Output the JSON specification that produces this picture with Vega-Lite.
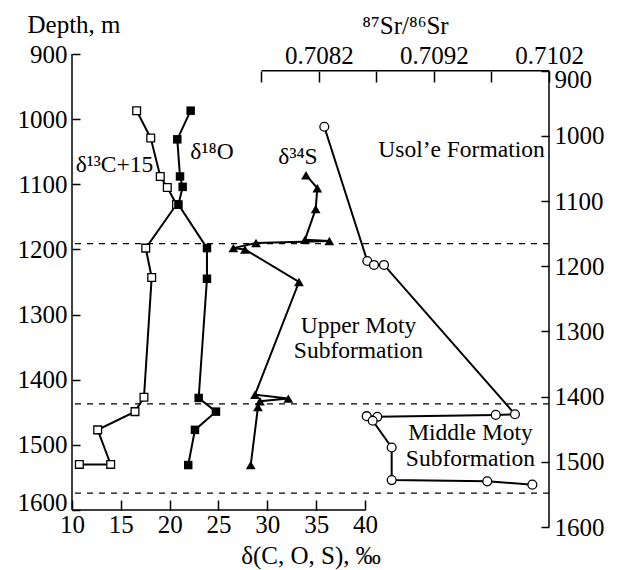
{
  "$schema": "https://vega.github.io/schema/vega-lite/v6.json",
  "width": 477,
  "height": 473,
  "autosize": {"type": "none"},
  "padding": {"left": 72, "top": 54, "right": 70, "bottom": 43},
  "config": {
    "view": {"stroke": null},
    "font": "Liberation Serif",
    "axis": {
      "labelFont": "Liberation Serif", "labelFontSize": 25, "labelColor": "black",
      "titleFont": "Liberation Serif", "titleFontSize": 25, "titleFontWeight": "normal", "titleColor": "black",
      "tickColor": "black", "tickWidth": 1.5, "grid": false,
      "labelOverlap": false, "labelBound": false, "labelFlush": false
    },
    "text": {"font": "Liberation Serif", "fontSize": 23.5, "color": "black"}
  },
  "datasets": {
    "C": [
      {"o": 1, "v": 16.62, "d": 987}, {"o": 2, "v": 18.06, "d": 1029}, {"o": 3, "v": 19.04, "d": 1088},
      {"o": 4, "v": 19.76, "d": 1105}, {"o": 5, "v": 20.7, "d": 1131}, {"o": 6, "v": 17.55, "d": 1198},
      {"o": 7, "v": 18.16, "d": 1243}, {"o": 8, "v": 17.37, "d": 1427}, {"o": 9, "v": 16.45, "d": 1449},
      {"o": 10, "v": 12.63, "d": 1477}, {"o": 11, "v": 13.96, "d": 1530}, {"o": 12, "v": 10.75, "d": 1530}
    ],
    "O": [
      {"o": 1, "v": 22.15, "d": 987}, {"o": 2, "v": 20.78, "d": 1031}, {"o": 3, "v": 21.06, "d": 1088},
      {"o": 4, "v": 21.33, "d": 1104}, {"o": 5, "v": 20.9, "d": 1131}, {"o": 6, "v": 23.82, "d": 1198},
      {"o": 7, "v": 23.82, "d": 1245}, {"o": 8, "v": 22.97, "d": 1428}, {"o": 9, "v": 24.74, "d": 1449},
      {"o": 10, "v": 22.59, "d": 1477}, {"o": 11, "v": 21.9, "d": 1531}
    ],
    "S": [
      {"o": 1, "v": 33.96, "d": 1086}, {"o": 2, "v": 35.12, "d": 1106}, {"o": 3, "v": 34.95, "d": 1138},
      {"o": 4, "v": 33.86, "d": 1185}, {"o": 5, "v": 36.35, "d": 1187}, {"o": 6, "v": 28.84, "d": 1190},
      {"o": 7, "v": 26.52, "d": 1198}, {"o": 8, "v": 27.71, "d": 1200}, {"o": 9, "v": 33.24, "d": 1250},
      {"o": 10, "v": 28.74, "d": 1423}, {"o": 11, "v": 32.15, "d": 1429}, {"o": 12, "v": 29.25, "d": 1433},
      {"o": 13, "v": 29.04, "d": 1442}, {"o": 14, "v": 28.3, "d": 1531}
    ],
    "Sr": [
      {"o": 1, "v": 0.708246, "d": 986}, {"o": 2, "v": 0.70862, "d": 1192}, {"o": 3, "v": 0.708678, "d": 1198},
      {"o": 4, "v": 0.708765, "d": 1198}, {"o": 5, "v": 0.709904, "d": 1427}, {"o": 6, "v": 0.709737, "d": 1428},
      {"o": 7, "v": 0.708707, "d": 1431}, {"o": 8, "v": 0.708615, "d": 1430}, {"o": 9, "v": 0.708667, "d": 1437},
      {"o": 10, "v": 0.708832, "d": 1478}, {"o": 11, "v": 0.708832, "d": 1528}, {"o": 12, "v": 0.709663, "d": 1530},
      {"o": 13, "v": 0.710055, "d": 1535}
    ],
    "bounds": [{"d": 1191}, {"d": 1437}, {"d": 1574}],
    "labels": [
      {"t": "δ¹³C+15", "v": 14.35, "d": 1081},
      {"t": "δ¹⁸O", "v": 24.33, "d": 1061},
      {"t": "δ³⁴S", "v": 33.14, "d": 1069},
      {"t": "Usol’e Formation", "v": 49.88, "d": 1058},
      {"t": "Upper Moty", "v": 39.33, "d": 1328},
      {"t": "Subformation", "v": 39.33, "d": 1367},
      {"t": "Middle Moty", "v": 50.8, "d": 1492},
      {"t": "Subformation", "v": 50.8, "d": 1532}
    ]
  },
  "layer": [
    {
      "layer": [
        {
          "data": {"name": "bounds"},
          "mark": {"type": "rule", "strokeDash": [6, 6], "strokeWidth": 1.2, "color": "black"},
          "encoding": {
            "y": {"field": "d", "type": "quantitative",
              "scale": {"domain": [900, 1626.1], "reverse": true, "nice": false, "zero": false},
              "axis": {
                "orient": "left", "values": [900, 1000, 1100, 1200, 1300, 1400, 1500, 1600], "format": "d",
                "labelFont": "Liberation Serif", "labelFontSize": 25, "labelColor": "black",
                "domain": false, "tickSize": -8, "labelPadding": 13,
                "labelOffset": {"condition": {"test": "datum.value === 1600", "value": -7}, "value": 0},
                "title": "Depth, m", "titleFont": "Liberation Serif", "titleAngle": 0, "titleAlign": "left", "titleBaseline": "alphabetic",
                "titleX": -45, "titleY": -22
              }
            }
          }
        },
        {
          "data": {"values": [{}]},
          "mark": {"type": "rule", "strokeWidth": 1.5, "color": "black"},
          "encoding": {
            "x": {"datum": 10, "type": "quantitative",
              "scale": {"domain": [10, 58.84], "nice": false, "zero": false},
              "axis": {
                "orient": "bottom", "values": [10, 15, 20, 25, 30, 35, 40], "format": "d",
                "labelFont": "Liberation Serif", "labelFontSize": 25, "labelColor": "black",
                "domain": false, "offset": -17, "tickSize": -10, "labelPadding": 12,
                "title": "δ(C, O, S), ‰", "titleFont": "Liberation Serif", "titleY": 53, "titleBaseline": "alphabetic"
              }
            },
            "y": {"datum": 900, "type": "quantitative"},
            "y2": {"datum": 1600}
          }
        },
        {
          "data": {"values": [{}]},
          "mark": {"type": "rule", "strokeWidth": 1.5, "color": "black"},
          "encoding": {
            "x": {"datum": 10, "type": "quantitative"},
            "x2": {"datum": 40},
            "y": {"datum": 1600, "type": "quantitative"}
          }
        },
        {
          "data": {"name": "C"},
          "mark": {"type": "line", "color": "black", "strokeWidth": 2},
          "encoding": {
            "x": {"field": "v", "type": "quantitative"},
            "y": {"field": "d", "type": "quantitative"},
            "order": {"field": "o"}
          }
        },
        {
          "data": {"name": "O"},
          "mark": {"type": "line", "color": "black", "strokeWidth": 2},
          "encoding": {
            "x": {"field": "v", "type": "quantitative"},
            "y": {"field": "d", "type": "quantitative"},
            "order": {"field": "o"}
          }
        },
        {
          "data": {"name": "S"},
          "mark": {"type": "line", "color": "black", "strokeWidth": 2},
          "encoding": {
            "x": {"field": "v", "type": "quantitative"},
            "y": {"field": "d", "type": "quantitative"},
            "order": {"field": "o"}
          }
        },
        {
          "data": {"name": "C"},
          "mark": {"type": "point", "shape": "square", "filled": true, "fill": "white", "stroke": "black", "strokeWidth": 1.3, "size": 60, "opacity": 1},
          "encoding": {
            "x": {"field": "v", "type": "quantitative"},
            "y": {"field": "d", "type": "quantitative"}
          }
        },
        {
          "data": {"name": "O"},
          "mark": {"type": "point", "shape": "square", "filled": true, "fill": "black", "size": 72, "opacity": 1},
          "encoding": {
            "x": {"field": "v", "type": "quantitative"},
            "y": {"field": "d", "type": "quantitative"}
          }
        },
        {
          "data": {"name": "S"},
          "mark": {"type": "point", "shape": "triangle-up", "filled": true, "fill": "black", "size": 95, "opacity": 1},
          "encoding": {
            "x": {"field": "v", "type": "quantitative"},
            "y": {"field": "d", "type": "quantitative"}
          }
        },
        {
          "data": {"name": "labels"},
          "mark": {"type": "text", "align": "center", "baseline": "alphabetic", "font": "Liberation Serif"},
          "encoding": {
            "x": {"field": "v", "type": "quantitative"},
            "y": {"field": "d", "type": "quantitative"},
            "text": {"field": "t"}
          }
        }
      ]
    },
    {
      "layer": [
        {
          "data": {"values": [{}]},
          "mark": {"type": "rule", "strokeWidth": 1.5, "color": "black"},
          "encoding": {
            "x": {"datum": 0.7077, "type": "quantitative",
              "scale": {"domain": [0.7060522, 0.7102], "nice": false, "zero": false},
              "axis": {
                "orient": "top", "values": [0.7077, 0.7082, 0.7087, 0.7092, 0.7097, 0.7102],
                "format": ".4f",
                "labelExpr": "indexof(['0.7082','0.7092','0.7102'], datum.label) >= 0 ? datum.label : ''",
                "labelFont": "Liberation Serif", "labelFontSize": 25, "labelColor": "black",
                "domain": false, "offset": -17, "tickSize": -11, "labelPadding": 14,
                "title": "⁸⁷Sr/⁸⁶Sr", "titleFont": "Liberation Serif", "titleX": 333, "titleY": -38, "titleAlign": "center", "titleBaseline": "alphabetic"
              }
            },
            "x2": {"datum": 0.7102},
            "y": {"datum": 900, "type": "quantitative",
              "scale": {"domain": [874.4, 1600], "reverse": true, "nice": false, "zero": false},
              "axis": {
                "orient": "right", "values": [900, 1000, 1100, 1200, 1300, 1400, 1500, 1600], "format": "d",
                "labelFont": "Liberation Serif", "labelFontSize": 25, "labelColor": "black",
                "domain": false, "tickSize": -8, "labelPadding": 13,
                "labelOffset": {"condition": {"test": "datum.value === 900", "value": 9}, "value": 0},
                "title": null
              }
            }
          }
        },
        {
          "data": {"values": [{}]},
          "mark": {"type": "rule", "strokeWidth": 1.5, "color": "black"},
          "encoding": {
            "x": {"datum": 0.7102, "type": "quantitative"},
            "y": {"datum": 900, "type": "quantitative"},
            "y2": {"datum": 1600}
          }
        },
        {
          "data": {"name": "Sr"},
          "mark": {"type": "line", "color": "black", "strokeWidth": 2},
          "encoding": {
            "x": {"field": "v", "type": "quantitative"},
            "y": {"field": "d", "type": "quantitative"},
            "order": {"field": "o"}
          }
        },
        {
          "data": {"name": "Sr"},
          "mark": {"type": "point", "shape": "circle", "filled": true, "fill": "white", "stroke": "black", "strokeWidth": 1.3, "size": 78, "opacity": 1},
          "encoding": {
            "x": {"field": "v", "type": "quantitative"},
            "y": {"field": "d", "type": "quantitative"}
          }
        }
      ]
    }
  ],
  "resolve": {"scale": {"x": "independent", "y": "independent"}}
}
